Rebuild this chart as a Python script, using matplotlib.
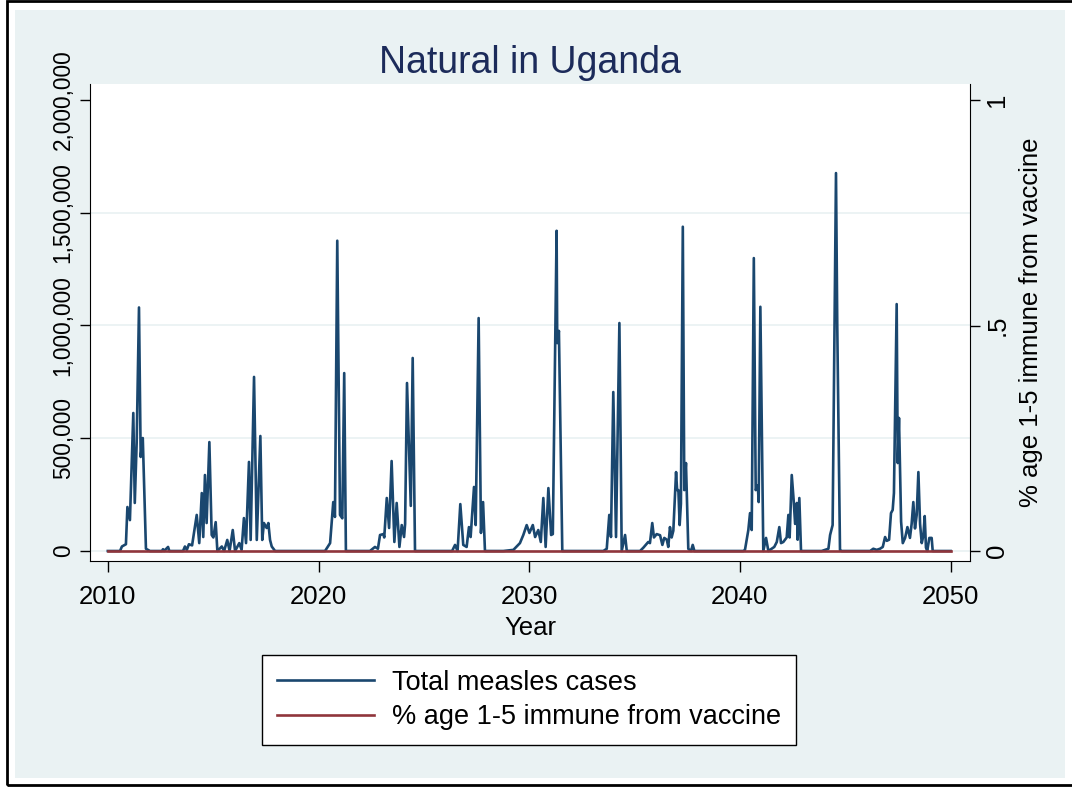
import matplotlib
matplotlib.use('Agg')
import matplotlib.pyplot as plt
from matplotlib.patches import Rectangle

plt.rcParams['font.family'] = ['Liberation Sans', 'DejaVu Sans']

# ---------------------------------- #
#   Data          #
# ---------------------------------- #
# year (decimal) and total measles cases
year = [
    2010.00, 2010.58, 2010.67, 2010.86, 2010.93, 2011.05, 2011.21, 2011.28, 2011.37,
    2011.48, 2011.56, 2011.66, 2011.81, 2012.00, 2012.57, 2012.62, 2012.67, 2012.86,
    2012.92,
    2013.57, 2013.66, 2013.75, 2013.85, 2014.00, 2014.22, 2014.34, 2014.46, 2014.53,
    2014.61, 2014.69, 2014.82, 2014.93, 2015.01, 2015.12, 2015.20, 2015.41, 2015.52,
    2015.67, 2015.78, 2015.93, 2016.04, 2016.24, 2016.35, 2016.46, 2016.56, 2016.70,
    2016.78, 2016.94, 2017.07, 2017.24, 2017.33, 2017.41, 2017.54, 2017.62, 2017.70,
    2017.78, 2017.94,
    2020.31, 2020.55, 2020.70, 2020.78, 2020.89, 2021.02, 2021.13, 2021.22, 2021.30,
    2022.44, 2022.68, 2022.82, 2022.92, 2023.08, 2023.12, 2023.24, 2023.35, 2023.47,
    2023.60, 2023.71, 2023.84, 2023.95, 2024.06, 2024.11, 2024.20, 2024.38, 2024.47,
    2024.58,
    2026.34, 2026.48, 2026.60, 2026.73, 2026.87, 2027.03, 2027.14, 2027.22, 2027.38,
    2027.46, 2027.60, 2027.71, 2027.81, 2027.90,
    2028.77, 2029.25, 2029.56, 2029.72, 2029.88, 2030.01, 2030.17, 2030.28, 2030.43,
    2030.55, 2030.67, 2030.78, 2030.91, 2031.04, 2031.12, 2031.30, 2031.33, 2031.41,
    2031.57,
    2033.52, 2033.68, 2033.80, 2033.88, 2033.99, 2034.12, 2034.28, 2034.39, 2034.55,
    2034.63,
    2035.26, 2035.42, 2035.65, 2035.73, 2035.84, 2035.92, 2036.05, 2036.21, 2036.32,
    2036.41, 2036.53, 2036.60, 2036.68, 2036.76, 2036.84, 2036.97, 2037.02, 2037.08,
    2037.14, 2037.20, 2037.29, 2037.36, 2037.44, 2037.55, 2037.68, 2037.76, 2037.84,
    2040.16, 2040.24, 2040.40, 2040.48, 2040.56, 2040.66, 2040.75, 2040.85, 2040.89,
    2040.97, 2041.11, 2041.24, 2041.35, 2041.51, 2041.63, 2041.75, 2041.87, 2041.95,
    2042.06, 2042.14, 2042.22, 2042.30, 2042.36, 2042.46, 2042.55, 2042.62, 2042.70,
    2042.74, 2042.82, 2042.90,
    2043.88, 2044.04, 2044.20, 2044.28, 2044.40, 2044.56, 2044.62, 2044.75, 2044.83,
    2046.18, 2046.33, 2046.49, 2046.65, 2046.78, 2046.89, 2046.97, 2047.08, 2047.17,
    2047.25, 2047.31, 2047.44, 2047.49, 2047.55, 2047.60, 2047.65, 2047.73, 2047.84,
    2047.95, 2048.07, 2048.15, 2048.23, 2048.31, 2048.39, 2048.47, 2048.55, 2048.63,
    2048.71, 2048.77, 2048.83, 2048.89, 2048.99, 2049.10, 2049.15, 2050.00,
]
cases = [
    0, 0, 20e3, 30e3, 195e3, 137e3, 612e3, 213e3, 479e3,
    1080e3, 417e3, 501e3, 10e3, 0, 0, 8e3, 0, 18e3,
    0,
    0, 20e3, 5e3, 30e3, 25e3, 160e3, 35e3, 257e3, 62e3,
    337e3, 124e3, 483e3, 71e3, 60e3, 128e3, 0, 20e3, 0,
    49e3, 0, 93e3, 0, 35e3, 5e3, 146e3, 35e3, 395e3,
    49e3, 772e3, 49e3, 510e3, 49e3, 124e3, 102e3, 124e3, 49e3,
    20e3, 0,
    0, 35e3, 217e3, 151e3, 1376e3, 160e3, 145e3, 789e3, 0,
    0, 18e3, 10e3, 71e3, 75e3, 60e3, 235e3, 102e3, 399e3,
    40e3, 213e3, 18e3, 115e3, 62e3, 120e3, 745e3, 200e3, 856e3,
    0,
    0, 27e3, 0, 208e3, 27e3, 18e3, 106e3, 62e3, 284e3,
    115e3, 1033e3, 80e3, 217e3, 0,
    0, 5e3, 35e3, 71e3, 115e3, 80e3, 115e3, 62e3, 93e3,
    40e3, 235e3, 18e3, 279e3, 71e3, 75e3, 1420e3, 922e3, 976e3,
    0,
    0, 10e3, 160e3, 62e3, 705e3, 62e3, 1011e3, 0, 71e3,
    0,
    0, 15e3, 40e3, 35e3, 124e3, 60e3, 75e3, 70e3, 27e3,
    58e3, 50e3, 18e3, 106e3, 60e3, 90e3, 350e3, 270e3, 270e3,
    115e3, 210e3, 1438e3, 270e3, 390e3, 10e3, 0, 27e3, 0,
    0, 5e3, 93e3, 168e3, 93e3, 1299e3, 270e3, 290e3, 217e3,
    1083e3, 0, 58e3, 0, 10e3, 18e3, 40e3, 106e3, 35e3,
    40e3, 50e3, 60e3, 160e3, 60e3, 337e3, 226e3, 120e3, 213e3,
    50e3, 235e3, 0,
    0, 5e3, 10e3, 71e3, 115e3, 1676e3, 1000e3, 5e3, 0,
    0, 10e3, 5e3, 10e3, 18e3, 62e3, 45e3, 50e3, 168e3,
    182e3, 257e3, 1095e3, 390e3, 590e3, 350e3, 130e3, 35e3, 58e3,
    106e3, 58e3, 120e3, 217e3, 100e3, 160e3, 350e3, 120e3, 35e3,
    70e3, 155e3, 15e3, 0, 58e3, 58e3, 0, 0,
]

# share of age 1-5 immune from vaccine (flat at zero, natural scenario)
vacc_year = [2010, 2050]
vacc_share = [0, 0]

left_ticks = [0, 500000, 1000000, 1500000, 2000000]
left_labels = ['0', '500,000', '1,000,000', '1,500,000', '2,000,000']
right_ticks = [0, 0.5, 1]
right_labels = ['0', '.5', '1']
x_ticks = [2010, 2020, 2030, 2040, 2050]

# ---------------------------------- #
#   Plot                             #
# ---------------------------------- #
navy = '#1A476F'
maroon = '#90353B'
bg = '#EAF2F3'
fs = 18.5

fig = plt.figure(figsize=(10.72, 7.88), dpi=100, facecolor='white')
fig.patches.append(Rectangle((15 / 1072, 10 / 788), 1050 / 1072, 768 / 788,
                             transform=fig.transFigure, facecolor=bg,
                             edgecolor='none', zorder=-10))
fig.patches.append(Rectangle((7 / 1072, 3 / 788), 1.0, 784 / 788,
                             transform=fig.transFigure, fill=False,
                             edgecolor='black', lw=2, zorder=-9))

ax = fig.add_axes([90 / 1072, 1 - 561 / 788, 880 / 1072, 477 / 788])
ax.set_facecolor('white')

l1, = ax.plot(year, cases, color=navy, lw=1.9, solid_joinstyle='round',
              label='Total measles cases')
ax.set_xlim(2009.155, 2050.92)
ax.set_ylim(-44346, 2070953)
for v in left_ticks[:-1]:
    ax.axhline(v, color=bg, lw=1.3, zorder=0)

ax2 = ax.twinx()
l2, = ax2.plot(vacc_year, vacc_share, color=maroon, lw=1.9,
               label='% age 1-5 immune from vaccine')
ax2.set_ylim(-0.02217, 1.03548)

for a in (ax, ax2):
    a.spines['top'].set_visible(False)
ax.spines['right'].set_visible(False)
ax2.spines['left'].set_visible(False)
ax2.spines['bottom'].set_visible(False)

ax.set_xticks(x_ticks)
ax.set_xticklabels([str(t) for t in x_ticks])
ax.set_yticks(left_ticks)
ax.set_yticklabels(left_labels, rotation=90, va='center')
ax2.set_yticks(right_ticks)
ax2.set_yticklabels(right_labels, rotation=90, va='center')

ax.tick_params(axis='x', length=8, width=1, pad=9, labelsize=fs)
ax.tick_params(axis='y', length=7, width=1, pad=4, labelsize=16.3)
ax2.tick_params(axis='y', length=7, width=1, pad=4, labelsize=fs)

ax.set_xlabel('Year', fontsize=fs, labelpad=5)
ax2.set_ylabel('% age 1-5 immune from vaccine', fontsize=fs, labelpad=7)
ax.set_title('Natural in Uganda', fontsize=27, color='#1C2B5A', pad=8)

leg = fig.legend(handles=[l1, l2], loc='center',
                 bbox_to_anchor=(529 / 1072, 1 - 700 / 788),
                 fontsize=19.5, frameon=True, fancybox=False,
                 edgecolor='black', framealpha=1, handlelength=3.6,
                 handletextpad=0.65, labelspacing=0.3, borderpad=0.55)
leg.get_frame().set_linewidth(1)

fig.savefig('out.png', dpi=100, facecolor=fig.get_facecolor())
